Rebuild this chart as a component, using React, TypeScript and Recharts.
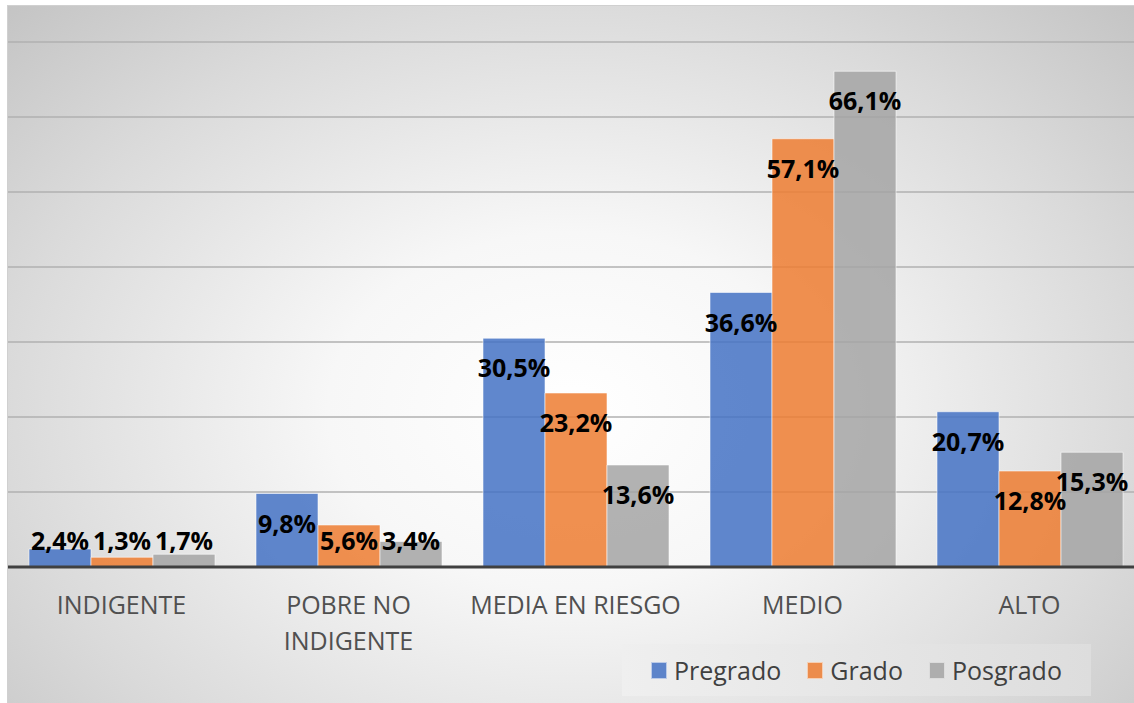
import React from "react";
import { BarChart, Bar, XAxis, YAxis, CartesianGrid, LabelList, Legend } from "recharts";

const categories = ["INDIGENTE", "POBRE NO\nINDIGENTE", "MEDIA EN RIESGO", "MEDIO", "ALTO"];
const pregrado = [2.4, 9.8, 30.5, 36.6, 20.7];
const grado = [1.3, 5.6, 23.2, 57.1, 12.8];
const posgrado = [1.7, 3.4, 13.6, 66.1, 15.3];
const yTicks = [0, 10, 20, 30, 40, 50, 60, 70];
const seriesNames = ["Pregrado", "Grado", "Posgrado"];
const seriesColors = ["#4472C4", "#ED7D31", "#A5A5A5"];

const data = categories.map((name, i) => ({
  name,
  Pregrado: pregrado[i],
  Grado: grado[i],
  Posgrado: posgrado[i],
}));

const FONT = "'Open Sans', 'Noto Sans', sans-serif";

const fmt = (v: number) => v.toFixed(1).replace(".", ",") + "%";

const ValueLabel = (props: any) => {
  const { x, y, width, height, value } = props;
  const base = y + height;
  const cy = Math.min(y + 29, base - 27);
  return (
    <text
      x={x + width / 2}
      y={cy}
      textAnchor="middle"
      dominantBaseline="central"
      fontFamily={FONT}
      fontWeight={700}
      fontSize={25}
      fill="#000000"
    >
      {fmt(value)}
    </text>
  );
};

const CategoryTick = (props: any) => {
  const { x, y, payload } = props;
  const lines = String(payload.value).split("\n");
  return (
    <text
      x={x}
      y={y}
      textAnchor="middle"
      fontFamily={FONT}
      fontSize={25}
      fill="#505050"
    >
      {lines.map((l, i) => (
        <tspan key={i} x={x} dy={i === 0 ? 47 : 36}>
          {l}
        </tspan>
      ))}
    </text>
  );
};

const LegendContent = () => (
  <div
    style={{
      width: 469,
      height: 52,
      boxSizing: "border-box",
      background: "linear-gradient(to right, #EFEFEF, #DDDDDD)",
      display: "flex",
      alignItems: "center",
      paddingLeft: 29,
      fontFamily: FONT,
      fontSize: 25,
      color: "#404040",
    }}
  >
    {seriesNames.map((n, i) => (
      <div key={n} style={{ display: "flex", alignItems: "center", marginRight: 26 }}>
        <div
          style={{
            width: 16,
            height: 17,
            background: seriesColors[i],
            opacity: 0.85,
            border: "1px solid rgba(255,255,255,0.6)",
            boxSizing: "border-box",
            marginRight: 7,
          }}
        />
        <span style={{ lineHeight: "30px" }}>{n}</span>
      </div>
    ))}
  </div>
);

export default function App() {
  return (
    <div
      style={{
        position: "absolute",
        left: 7,
        top: 5,
        width: 1127,
        height: 698,
        overflow: "hidden",
        borderTop: "1px solid #D0D0D0",
        borderLeft: "1px solid #D0D0D0",
        boxSizing: "border-box",
        background:
          "radial-gradient(ellipse 72% 85% at 50% 58%, #FFFFFF 0%, #F7F7F7 30%, #DADADA 70%, #C2C2C2 100%)",
      }}
    >
      <BarChart
        width={1135}
        height={697}
        data={data}
        margin={{ top: 36, right: 0, left: 0, bottom: 0 }}
        barGap={0}
        barSize={62}
      >
        <CartesianGrid vertical={false} stroke="#B0B0B0" strokeWidth={1.3} />
        <YAxis hide domain={[0, 70]} ticks={yTicks} />
        <XAxis
          dataKey="name"
          interval={0}
          height={136}
          tickLine={false}
          tickSize={0}
          tickMargin={0}
          axisLine={{ stroke: "#404040", strokeWidth: 3 }}
          tick={<CategoryTick />}
        />
        <Legend
          layout="horizontal"
          verticalAlign="middle"
          align="center"
          content={<LegendContent />}
          wrapperStyle={{ position: "absolute", left: 614, top: 638, width: 469, height: 52 }}
        />
        {seriesNames.map((n, i) => (
          <Bar
            key={n}
            dataKey={n}
            fill={seriesColors[i]}
            fillOpacity={0.85}
            stroke="rgba(255,255,255,0.55)"
            strokeWidth={1}
            isAnimationActive={false}
          >
            <LabelList dataKey={n} content={<ValueLabel />} />
          </Bar>
        ))}
      </BarChart>
    </div>
  );
}
